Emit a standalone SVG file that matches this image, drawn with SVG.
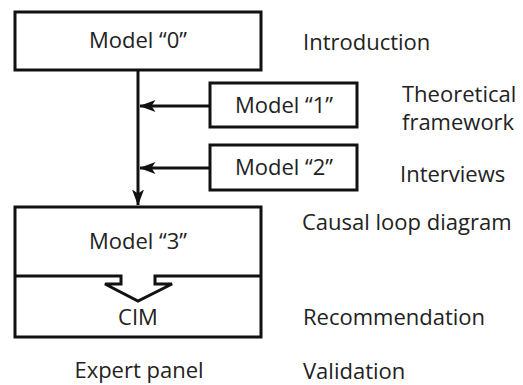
<svg xmlns="http://www.w3.org/2000/svg" width="523" height="385" viewBox="0 0 523 385">
  <style>
    .box { fill: #ffffff; stroke: #111111; stroke-width: 3; }
    .line { fill: none; stroke: #111111; stroke-width: 3; }
    .lbl { font-family: "Open Sans", "Noto Sans", sans-serif; font-size: 22px; fill: #222222; }
    .mid { text-anchor: middle; }
  </style>
  <defs>
    <marker id="arrow" viewBox="0 0 16 12" refX="15.5" refY="6" markerWidth="16" markerHeight="12" markerUnits="userSpaceOnUse" orient="auto">
      <path d="M0,0 L16,6 L0,12 L4,6 Z" fill="#111111"/>
    </marker>
  </defs>

  <g id="connectors">
    <line class="line" x1="138" y1="70" x2="138" y2="205" marker-end="url(#arrow)"/>
    <line class="line" x1="210" y1="106" x2="140" y2="106" marker-end="url(#arrow)"/>
    <line class="line" x1="210" y1="168" x2="140" y2="168" marker-end="url(#arrow)"/>
  </g>

  <g id="model0">
    <rect class="box" x="15" y="12" width="246" height="58"/>
    <text class="lbl mid" x="138" y="48">Model “0”</text>
  </g>

  <g id="model1">
    <rect class="box" x="210" y="83" width="147" height="44"/>
    <text class="lbl mid" x="284" y="113">Model “1”</text>
  </g>

  <g id="model2">
    <rect class="box" x="210" y="145" width="147" height="45"/>
    <text class="lbl mid" x="284" y="175">Model “2”</text>
  </g>

  <g id="model3">
    <rect class="box" x="15" y="207" width="246" height="130"/>
    <text class="lbl mid" x="138" y="249">Model “3”</text>
    <path class="line" d="M15,276 L121,276 L121,284 L105,284 L138,301 L172,284 L155,284 L155,276 L261,276"/>
    <text class="lbl mid" x="138" y="325">CIM</text>
  </g>

  <g id="labels">
    <text class="lbl mid" x="139" y="378">Expert panel</text>
    <text class="lbl" x="303" y="50">Introduction</text>
    <text class="lbl" x="402" y="102">Theoretical</text>
    <text class="lbl" x="402" y="130">framework</text>
    <text class="lbl" x="400" y="182">Interviews</text>
    <text class="lbl" x="302" y="230">Causal loop diagram</text>
    <text class="lbl" x="303" y="325">Recommendation</text>
    <text class="lbl" x="303" y="379">Validation</text>
  </g>
</svg>
